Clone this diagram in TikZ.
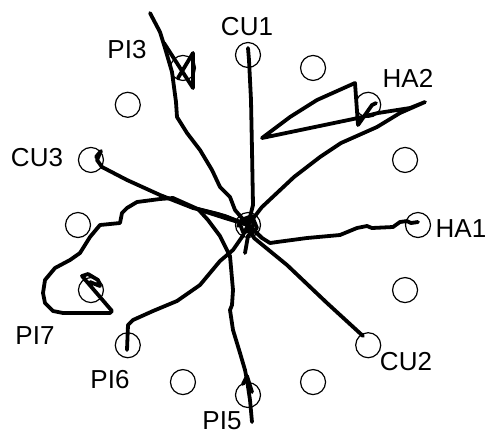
\documentclass[tikz,border=0pt]{standalone}
\usepackage{fontspec}
\setmainfont{Liberation Sans}
\begin{document}
\begin{tikzpicture}[x=0.5pt, y=-0.5pt]

\tikzstyle{target} = [circle, draw, line width=0.6pt, minimum size=12.5pt, inner sep=0pt]
\tikzstyle{lab} = [font=\fontsize{13}{15}\selectfont, inner sep=0pt]
\tikzstyle{traj} = [line width=1.9pt, line join=round, line cap=round]

\useasboundingbox (0,0) rectangle (488,436);

\node[target] (c) at (248,225) {};
\foreach \i in {0,...,15}
  \node[target] (t\i) at ({248+170*cos(22.5*\i-90)},{225+170*sin(22.5*\i-90)}) {};

\node[lab] (cu1) at (247,27) {CU1};
\node[lab] (pi3) at (127,50) {PI3};
\node[lab] (ha2) at (408,78) {HA2};
\node[lab] (cu3) at (37,158) {CU3};
\node[lab] (ha1) at (461,229) {HA1};
\node[lab] (pi7) at (35,336) {PI7};
\node[lab] (cu2) at (406,362) {CU2};
\node[lab] (pi6) at (110,380) {PI6};
\node[lab] (pi5) at (222,421) {PI5};

% CU1
\draw[traj] (c.center) -- (253,205) -- (252,150) -- (251,100) -- (249,60) -- (248,48);
% PI3
\draw[traj] (c.center) -- (235,210) -- (230,197) -- (220,187) -- (212,170) -- (200,150)
  -- (187,133) -- (177,117) -- (176,102) -- (172,72) -- (165,48) -- (160,32) -- (150,13);
\draw[traj] (164,43) -- (193,88) -- (193,53) -- (178,78);
% HA2
\draw[traj] (c.center) -- (262,207) -- (294,177) -- (320,157) -- (341,143) -- (377,127)
  -- (400,113) -- (425,102) -- (410,108) -- (378,113) -- (358,118) -- (262,138)
  -- (290,117) -- (317,100) -- (355,83) -- (358,125) -- (365,115) -- (372,105) -- (376,103);
% HA1
\draw[traj] (c.center) -- (262,238) -- (270,243) -- (277,242) -- (307,238) -- (340,235)
  -- (357,228) -- (367,226) -- (372,228) -- (393,227) -- (400,222) -- (407,221)
  -- (411,223) -- (418,222);
% CU2
\draw[traj] (c.center) -- (254,238) -- (287,265) -- (327,303) -- (363,336);
% PI5
\draw[traj] (c.center) -- (218,214) -- (198,209) -- (208,220) -- (220,236) -- (230,256)
  -- (233,290) -- (232,305) -- (230,310) -- (233,330) -- (240,353) -- (245,370)
  -- (247,380) -- (250,400) -- (252,422);
\draw[traj] (243,384) -- (247,376) -- (252,392);
% PI6
\draw[traj] (c.center) -- (242,237) -- (233,250) -- (220,261) -- (200,285) -- (177,301)
  -- (153,311) -- (133,320) -- (128,325) -- (127,350);
% PI7
\draw[traj] (c.center) -- (225,218) -- (200,210) -- (173,198) -- (160,199) -- (137,202)
  -- (127,208) -- (122,213) -- (120,223) -- (100,225) -- (90,237) -- (80,253)
  -- (70,260) -- (55,268) -- (45,280) -- (43,293) -- (45,303) -- (53,311) -- (63,313)
  -- (110,313) -- (112,311) -- (82,276) -- (88,274) -- (98,280) -- (100,286) -- (90,282);
% CU3
\draw[traj] (c.center) -- (225,216) -- (193,208) -- (160,195) -- (127,180) -- (102,167)
  -- (97,160) -- (100,153) -- (101,151) -- (96,157);
% centre
\draw[traj] (241,220) -- (252,216) -- (257,228) -- (248,236) -- (245,253);
\draw[traj] (238,226) -- (246,219) -- (254,222) -- (251,231) -- (243,232) -- (240,224);
\draw[traj] (244,222) -- (256,232) -- (262,238);
\end{tikzpicture}
\end{document}
